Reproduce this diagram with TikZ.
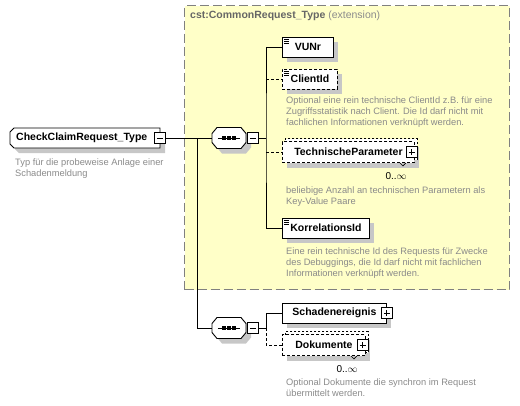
\documentclass[tikz,border=0pt]{standalone}
\usepackage{fontspec}
\setmainfont{Liberation Sans}
\usetikzlibrary{shadows}
\definecolor{extyellow}{HTML}{FFFFC8}
\definecolor{notegray}{HTML}{8A8A8A}
\def\docmark(#1){\draw[line width=0.6pt] ([shift={(2,2.5)}]#1.north west) -- ++(5,0) ([shift={(2,4.5)}]#1.north west) -- ++(5,0) ([shift={(2,6.5)}]#1.north west) -- ++(5,0);}
\def\seqshape(#1){\filldraw[fill=white, line width=0.9pt, shift={(#1)}, drop shadow={shadow xshift=5pt, shadow yshift=-5pt, fill=black!22, opacity=1}] (-12,-10.5) -- (12,-10.5) -- (17,-4.5) -- (17,4.5) -- (12,10.5) -- (-12,10.5) -- (-17,4.5) -- (-17,-4.5) -- cycle;}
\def\seqmark(#1){\draw[line width=0.9pt] ([xshift=6pt]#1.west) -- ([xshift=-6pt]#1.east); \foreach \d in {-5,0,5} \fill ([xshift=\d pt]#1.center) +(-1.6,-1.6) rectangle +(1.6,1.6);}
\def\multimark(#1){\draw[line width=0.6pt] ([xshift=-15pt]#1.south east) -- ++(3,3) -- ++(3,-3);}

\begin{document}
\begin{tikzpicture}[x=1pt, y=-1pt,
	conn/.style={line width=0.8pt},
	optional/.style={dash pattern=on 3pt off 2pt},
	elem/.style={draw, fill=white, line width=0.9pt, anchor=west, inner xsep=7pt, inner ysep=0pt, minimum height=20pt, minimum width=#1, font=\bfseries\fontsize{10.5}{12}\selectfont, drop shadow={shadow xshift=5pt, shadow yshift=-5pt, fill=black!22, opacity=1}},
	multi/.style={copy shadow={shadow xshift=3pt, shadow yshift=3pt, draw=black, fill=white, line width=0.9pt, dash pattern=on 2pt off 2pt}},
	minusbox/.style={draw, fill=white, line width=0.9pt, minimum size=11pt, inner sep=0pt, path picture={\draw[line width=0.9pt] ([xshift=2.5pt]path picture bounding box.west) -- ([xshift=-2.5pt]path picture bounding box.east);}},
	plusbox/.style={minusbox, path picture={\draw[line width=0.9pt] ([xshift=2.5pt]path picture bounding box.west) -- ([xshift=-2.5pt]path picture bounding box.east) ([yshift=2.5pt]path picture bounding box.south) -- ([yshift=-2.5pt]path picture bounding box.north);}},
	note/.style={anchor=north west, inner sep=0pt, align=left, text=notegray, font=\fontsize{9.3}{11}\selectfont},
	card/.style={anchor=east, inner sep=0pt, font=\fontsize{10}{11}\selectfont}]
	%%%%% START %%%%%
	\useasboundingbox (0,0) rectangle (520,405);
	
	\node[draw=black!50, line width=1pt, dash pattern=on 9pt off 4pt, fill=extyellow, minimum width=325pt, minimum height=284pt, inner sep=0pt, anchor=north west] (ext) at (184,5) {};
	\node[anchor=west, inner sep=0pt, font=\fontsize{10.5}{12}\selectfont, text=black!60] (exttitle) at (190,16) {\textbf{cst:CommonRequest\_Type} {\color{black!45}(extension)}};
	
	\filldraw[fill=white, line width=0.9pt, drop shadow={shadow xshift=5pt, shadow yshift=-5pt, fill=black!22, opacity=1}] (14,128) -- (160,128) -- (160,148) -- (14,148) -- (10,144) -- (10,132) -- cycle;
	\node[anchor=west, inner sep=0pt, font=\bfseries\fontsize{10.5}{12}\selectfont] (main) at (16,138) {CheckClaimRequest\_Type};
	\node[minusbox] (mainmin) at (160,138) {};
	\node[note] (mainnote) at (15,159) {Typ für die probeweise Anlage einer\\Schadenmeldung};
	
	\seqshape(229,138)
	\node[minimum width=34pt, minimum height=21pt, inner sep=0pt] (seqA) at (229,138) {};
	\seqmark(seqA)
	\node[minusbox, anchor=west] (seqAmin) at ([xshift=1pt]seqA.east) {};
	\seqshape(229,328)
	\node[minimum width=34pt, minimum height=21pt, inner sep=0pt] (seqB) at (229,328) {};
	\seqmark(seqB)
	\node[minusbox, anchor=west] (seqBmin) at ([xshift=1pt]seqB.east) {};
	
	\node[elem=51pt] (vunr) at (282,47) {VUNr};
	\docmark(vunr)
	\node[elem=55pt, optional] (clientid) at (282,79) {ClientId};
	\docmark(clientid)
	\node[note] (clientnote) at (286,97) {Optional eine rein technische ClientId z.B. für eine\\Zugriffsstatistik nach Client. Die Id darf nicht mit\\fachlichen Informationen verknüpft werden.};
	\node[elem=132pt, optional, multi, minimum height=21pt] (techparam) at (282,152) {TechnischeParameter\hspace{10pt}};
	\node[plusbox] (techplus) at ([xshift=-3pt]techparam.east) {};
	\multimark(techparam)
	\node[card] (techcard) at ([shift={(-8,13)}]techparam.south east) {0..$\infty$};
	\node[note] (technote) at (286,187) {beliebige Anzahl an technischen Parametern als\\Key-Value Paare};
	\node[elem=87pt] (korr) at (282,228) {KorrelationsId};
	\docmark(korr)
	\node[note] (korrnote) at (286,248) {Eine rein technische Id des Requests für Zwecke\\des Debuggings, die Id darf nicht mit fachlichen\\Informationen verknüpft werden.};
	
	\node[elem=104pt] (schaden) at (282,313) {Schadenereignis\hspace{8pt}};
	\node[plusbox] (schadenplus) at (schaden.east) {};
	\node[elem=83pt, optional, multi, minimum height=21pt] (doku) at (282,345) {Dokumente\hspace{10pt}};
	\node[plusbox] (dokuplus) at ([xshift=-3pt]doku.east) {};
	\multimark(doku)
	\node[card] (dokucard) at ([shift={(-8,13)}]doku.south east) {0..$\infty$};
	\node[note] (dokunote) at (286,379) {Optional Dokumente die synchron im Request\\übermittelt werden.};
	
	\coordinate (fork) at (197,138);
	\coordinate (busA) at (266,138);
	\coordinate (busB) at (266,328);
	\draw[conn] (mainmin.east) -- (seqA.west);
	\draw[conn] (fork) |- (seqB.west);
	\draw[conn] (seqAmin.east) -- (busA);
	\draw[conn] (vunr.west) -| (busA) |- (korr.west);
	\draw[conn, optional] (busA |- clientid.west) -- (clientid.west);
	\draw[conn, optional] (busA |- techparam.west) -- (techparam.west);
	\draw[conn] (seqBmin.east) -- (busB);
	\draw[conn] (schaden.west) -| (busB);
	\draw[conn, optional] (busB) |- (doku.west);
	
	%%%%% END %%%%%
\end{tikzpicture}
\end{document}
